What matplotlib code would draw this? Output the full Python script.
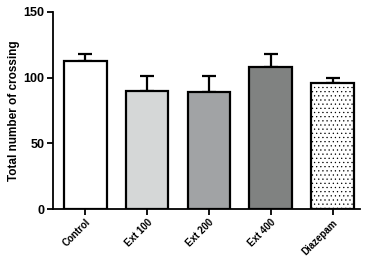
import matplotlib
matplotlib.use('Agg')
import matplotlib.pyplot as plt

# data
groups = ['Control', 'Ext 100', 'Ext 200', 'Ext 400', 'Diazepam']
means = [113, 90, 89, 108, 96]
sem = [5, 11, 12, 10, 4]
fills = ['white', '#d5d7d7', '#a1a3a5', '#808281', 'white']
hatches = ['', '', '', '', '....']

plt.rcParams['font.family'] = 'Liberation Sans'
plt.rcParams['hatch.linewidth'] = 0.4
plt.rcParams['hatch.color'] = '#555555'

fig = plt.figure(figsize=(3.71, 2.65), dpi=100)
ax = fig.add_axes([0.143, 0.211, 0.827, 0.744])

x = list(range(len(groups)))
bars = ax.bar(x, means, width=0.69, color=fills, edgecolor='black', linewidth=1.6, zorder=3)
for b, h in zip(bars, hatches):
    b.set_hatch(h)
ax.errorbar(x, means, yerr=[[0] * len(sem), sem], fmt='none', ecolor='black',
            elinewidth=1.6, capsize=4.8, capthick=1.6, zorder=2)

ax.set_xlim(-0.52, 4.44)
ax.set_ylim(0, 150)
ax.set_yticks([0, 50, 100, 150])
ax.set_xticks(x)
ax.set_xticklabels(groups, rotation=45, ha='right', rotation_mode='anchor',
                   fontsize=7, fontweight='bold')
for lbl in ax.get_yticklabels():
    lbl.set_fontweight('bold')
    lbl.set_fontsize(9)
ax.set_ylabel('Total number of crossing', fontsize=8.5, fontweight='bold', labelpad=3)

for s in ['top', 'right']:
    ax.spines[s].set_visible(False)
for s in ['left', 'bottom']:
    ax.spines[s].set_linewidth(1.3)
ax.tick_params(axis='both', width=1.3, length=4, pad=2)

fig.savefig('out.png', dpi=100)
